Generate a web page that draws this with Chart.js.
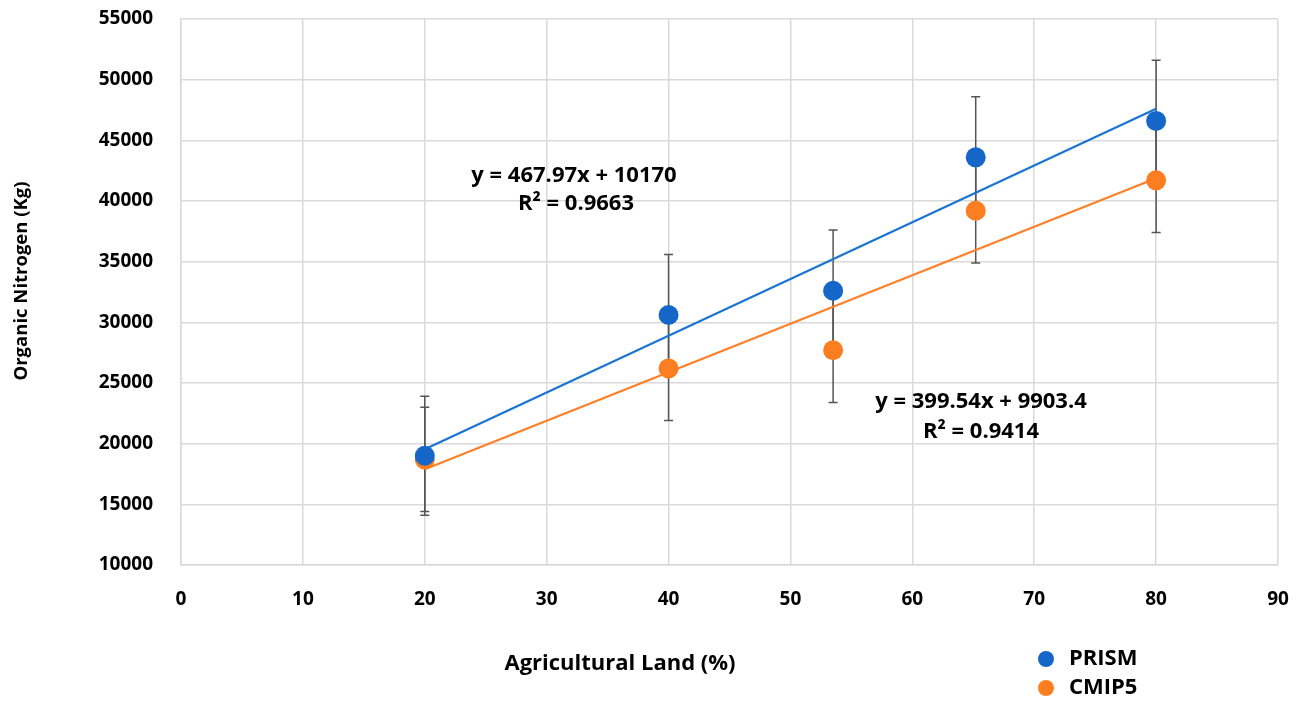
<!DOCTYPE html>
<html>
<head>
<meta charset="utf-8">
<script src="https://cdn.jsdelivr.net/npm/chart.js@4.4.1/dist/chart.umd.min.js"></script>
<style>
  html, body { margin: 0; padding: 0; background: #ffffff; }
  #wrap { width: 1308px; height: 701px; }
</style>
</head>
<body>
<div id="wrap"><canvas id="c" width="1308" height="701"></canvas></div>
<script>
// ---- data ----
const landPct      = [20, 40, 53.5, 65.2, 80];
const prismN       = [19000, 30600, 32600, 43600, 46600];
const cmip5N       = [18700, 26200, 27700, 39200, 41700];
const prismErr     = [4900, 5000, 5000, 5000, 5000];
const cmip5Err     = [4300, 4300, 4300, 4300, 4300];
const trendX       = [20, 80];
const prismTrend   = [19530, 47610];
const cmip5Trend   = [17890, 41870];
const xTicks       = [0, 10, 20, 30, 40, 50, 60, 70, 80, 90];
const yTicks       = [10000, 15000, 20000, 25000, 30000, 35000, 40000, 45000, 50000, 55000];
const seriesNames  = ['PRISM', 'CMIP5'];
const eqPrism      = ['y = 467.97x + 10170', 'R² = 0.9663'];
const eqCmip5      = ['y = 399.54x + 9903.4', 'R² = 0.9414'];
const xTitle       = 'Agricultural Land (%)';
const yTitle       = 'Organic Nitrogen (Kg)';

const BLUE = '#1467c8';
const ORANGE = '#fd7e21';
const FONT = '"Open Sans", "Liberation Sans", Arial, sans-serif';

const toPts = (xs, ys) => xs.map((x, i) => ({ x: x, y: ys[i] }));

const errorBars = {
  id: 'errorBars',
  beforeDatasetsDraw(chart) {
    const ctx = chart.ctx, xs = chart.scales.x, ys = chart.scales.y;
    ctx.save();
    ctx.strokeStyle = '#555555';
    ctx.lineWidth = 1.5;
    const draw = (vals, errs) => {
      landPct.forEach((xv, i) => {
        const px = xs.getPixelForValue(xv);
        const top = ys.getPixelForValue(vals[i] + errs[i]);
        const bot = ys.getPixelForValue(vals[i] - errs[i]);
        ctx.beginPath();
        ctx.moveTo(px, top); ctx.lineTo(px, bot);
        ctx.moveTo(px - 4.5, top); ctx.lineTo(px + 4.5, top);
        ctx.moveTo(px - 4.5, bot); ctx.lineTo(px + 4.5, bot);
        ctx.stroke();
      });
    };
    draw(prismN, prismErr);
    draw(cmip5N, cmip5Err);
    ctx.restore();
  }
};

const labels = {
  id: 'labels',
  afterDraw(chart) {
    const ctx = chart.ctx;
    ctx.save();
    ctx.fillStyle = '#000000';
    ctx.font = 'bold 22px ' + FONT;
    ctx.textAlign = 'center';
    ctx.textBaseline = 'middle';
    ctx.fillText(eqPrism[0], 574, 176);
    ctx.fillText(eqPrism[1], 576, 204);
    ctx.fillText(eqCmip5[0], 981, 402);
    ctx.fillText(eqCmip5[1], 981, 432);
    // axis titles
    ctx.fillText(xTitle, 620, 664);
    ctx.save();
    ctx.font = 'bold 18.5px ' + FONT;
    ctx.translate(22, 281);
    ctx.rotate(-Math.PI / 2);
    ctx.fillText(yTitle, 0, 0);
    ctx.restore();
    // legend
    const leg = [[BLUE, 659], [ORANGE, 688]];
    ctx.textAlign = 'left';
    leg.forEach((l, i) => {
      ctx.beginPath();
      ctx.fillStyle = l[0];
      ctx.arc(1046, l[1], 8, 0, Math.PI * 2);
      ctx.fill();
      ctx.fillStyle = '#000000';
      ctx.fillText(seriesNames[i], 1069, l[1]);
    });
    ctx.restore();
  }
};

new Chart(document.getElementById('c'), {
  type: 'scatter',
  data: {
    datasets: [
      { label: seriesNames[0], data: toPts(landPct, prismN), backgroundColor: BLUE, borderColor: BLUE,
        pointRadius: 10, pointHoverRadius: 10, borderWidth: 0, order: 0 },
      { label: seriesNames[1], data: toPts(landPct, cmip5N), backgroundColor: ORANGE, borderColor: ORANGE,
        pointRadius: 10, pointHoverRadius: 10, borderWidth: 0, order: 0 },
      { label: 'PRISM trend', data: toPts(trendX, prismTrend), showLine: true, borderColor: '#1a74d2',
        borderWidth: 2.2, pointRadius: 0, fill: false, order: 1 },
      { label: 'CMIP5 trend', data: toPts(trendX, cmip5Trend), showLine: true, borderColor: '#ff7f27',
        borderWidth: 2.2, pointRadius: 0, fill: false, order: 1 }
    ]
  },
  options: {
    responsive: false,
    animation: false,
    layout: { padding: { top: 19, right: 30, left: 0, bottom: 0 } },
    plugins: { legend: { display: false }, tooltip: { enabled: false } },
    scales: {
      x: {
        type: 'linear', min: 0, max: 90,
        afterBuildTicks: s => { s.ticks = xTicks.map(v => ({ value: v })); },
        afterFit: s => { s.height = 136; s.paddingLeft = 0; s.paddingRight = 0; },
        grid: { color: '#d9d9d9', lineWidth: 1.5, drawTicks: false },
        border: { color: '#d9d9d9', width: 1.5 },
        ticks: { padding: 23, color: '#000', font: { family: FONT, size: 19, weight: 'bold' }, maxRotation: 0 }
      },
      y: {
        type: 'linear', min: 10000, max: 55000,
        afterBuildTicks: s => { s.ticks = yTicks.map(v => ({ value: v })); },
        afterFit: s => { s.width = 181; s.paddingTop = 0; s.paddingBottom = 0; },
        grid: { color: '#d9d9d9', lineWidth: 1.5, drawTicks: false },
        border: { color: '#d9d9d9', width: 1.5 },
        ticks: { padding: 28, color: '#000', font: { family: FONT, size: 19, weight: 'bold' },
                 callback: v => String(v) }
      }
    }
  },
  plugins: [errorBars, labels]
});
</script>
</body>
</html>
